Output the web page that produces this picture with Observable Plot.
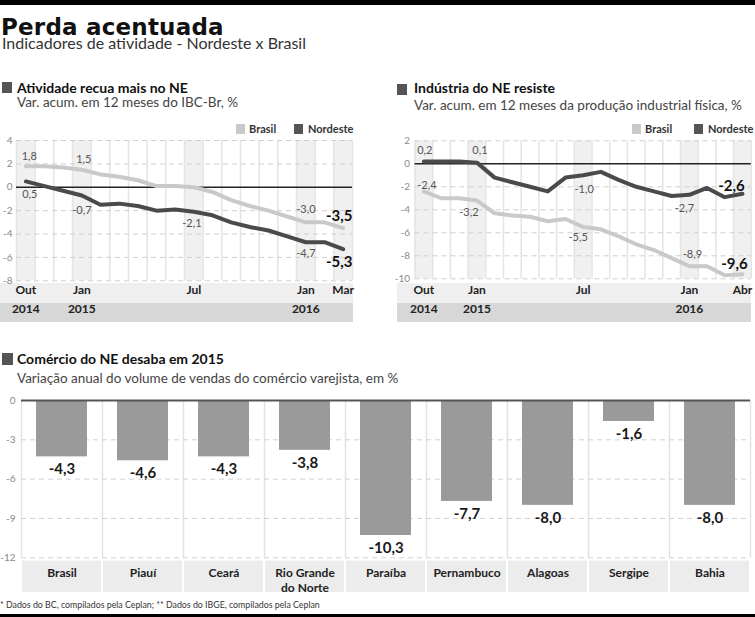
<!DOCTYPE html>
<html><head><meta charset="utf-8">
<script src="https://cdn.jsdelivr.net/npm/d3@7"></script>
<script src="https://cdn.jsdelivr.net/npm/@observablehq/plot@0.6"></script>
<style>
body{margin:0;background:#fff;}
#root{position:relative;width:755px;height:617px;overflow:hidden;font-family:Lato,"Open Sans",sans-serif;color:#222;background:#fff;}
#root > *{position:absolute;}
.t{white-space:nowrap;}
</style></head><body><div id="root"></div>
<script>
// ---------- DATA ----------
// Panel 1: IBC-Br, var. acum. 12 meses (%), Out/2014 - Mar/2016
const periodsA = ["out/14","nov/14","dez/14","jan/15","fev/15","mar/15","abr/15","mai/15","jun/15","jul/15","ago/15","set/15","out/15","nov/15","dez/15","jan/16","fev/16","mar/16"];
const brasilA   = [1.8, 1.8, 1.7, 1.5, 1.1, 0.9, 0.6, 0.1, 0.1, 0.0, -0.4, -1.1, -1.6, -2.0, -2.5, -3.0, -3.0, -3.5];
const nordesteA = [0.5, 0.1, -0.3, -0.7, -1.5, -1.4, -1.6, -2.0, -1.9, -2.1, -2.4, -3.0, -3.4, -3.7, -4.2, -4.7, -4.7, -5.3];
const monthTickIdxA = [0, 3, 9, 15, 17];
const monthTickLblA = ["Out", "Jan", "Jul", "Jan", "Mar"];
const yearTickIdxA = [0, 3, 15];
const yearTickLblA = ["2014", "2015", "2016"];
const yTicksA = [4, 2, 0, -2, -4, -6, -8];

// Panel 2: Produção industrial física, var. acum. 12 meses (%), Out/2014 - Abr/2016
const periodsB = ["out/14","nov/14","dez/14","jan/15","fev/15","mar/15","abr/15","mai/15","jun/15","jul/15","ago/15","set/15","out/15","nov/15","dez/15","jan/16","fev/16","mar/16","abr/16"];
const brasilB   = [-2.4, -3.0, -3.0, -3.2, -4.3, -4.5, -4.6, -5.0, -4.8, -5.5, -5.7, -6.3, -7.0, -7.5, -8.2, -8.9, -8.9, -9.7, -9.6];
const nordesteB = [0.2, 0.2, 0.2, 0.1, -1.2, -1.6, -2.0, -2.4, -1.2, -1.0, -0.7, -1.4, -2.0, -2.4, -2.8, -2.7, -2.1, -2.9, -2.6];
const monthTickIdxB = [0, 3, 9, 15, 18];
const monthTickLblB = ["Out", "Jan", "Jul", "Jan", "Abr"];
const yearTickIdxB = [0, 3, 15];
const yearTickLblB = ["2014", "2015", "2016"];
const yTicksB = [2, 0, -2, -4, -6, -8, -10];

// Panel 3: Comércio varejista, variação anual 2015 (%)
const states = ["Brasil", "Piauí", "Ceará", "Rio Grande\ndo Norte", "Paraíba", "Pernambuco", "Alagoas", "Sergipe", "Bahia"];
const vendas = [-4.3, -4.6, -4.3, -3.8, -10.3, -7.7, -8.0, -1.6, -8.0];
const yTicksC = [0, -3, -6, -9, -12];

// ---------- STYLE ----------
const C_BR = "#c9c9c9", C_NE = "#4a4a4a", C_BAR = "#9a9a9a";
const fmt = v => d3.format(".1f")(v).replace(".", ",").replace("\u2212", "-");

const root = document.getElementById("root");
function box(x, y, w, h, bg) {
  const d = document.createElement("div");
  Object.assign(d.style, {left: x + "px", top: y + "px", width: w + "px", height: h + "px", background: bg});
  root.appendChild(d); return d;
}
// asc/desc: font ascent/descent (em); lh: line-height (em)
function txt(s, x, base, size, opts = {}) {
  const d = document.createElement("div");
  d.className = "t";
  d.textContent = s;
  const asc = opts.asc ?? 0.987, desc = opts.desc ?? 0.213, lh = opts.lh ?? 1.2;
  const offset = (asc + (lh - asc - desc) / 2) * size;
  Object.assign(d.style, {
    left: x + "px", top: (base - offset) + "px", fontSize: size + "px",
    lineHeight: lh, fontWeight: opts.weight || "normal", color: opts.color || "#222",
    fontFamily: opts.family || "Lato, sans-serif", letterSpacing: (opts.ls || 0) + "px"
  });
  root.appendChild(d); return d;
}
function place(svg, x, y) { Object.assign(svg.style, {position: "absolute", left: x + "px", top: y + "px"}); root.appendChild(svg); }

// ---------- HEADER ----------
box(0, 0, 755, 5, "#000");
txt("Perda acentuada", 1, 35.5, 23, {weight: "bold", family: "'DejaVu Sans', sans-serif", asc: 0.928, desc: 0.236, lh: 0.75, color: "#111", ls: 0.2});
txt("Indicadores de atividade - Nordeste x Brasil", 2, 49.5, 16, {color: "#333", lh: 0.8});

// Panel headers
box(2, 82, 10, 11, "#555");
txt("Atividade recua mais no NE", 17, 93.5, 14, {weight: "bold", color: "#111"});
txt("Var. acum. em 12 meses do IBC-Br, %", 17, 107.5, 13.5, {color: "#444"});
box(397, 84, 10, 11, "#555");
txt("Indústria do NE resiste", 414, 94, 14, {weight: "bold", color: "#111"});
txt("Var. acum. em 12 meses da produção industrial física, %", 414, 110.5, 13.5, {color: "#444"});

// Legends
function legend(x1, x2, base) {
  box(x1, base - 9, 9, 10, C_BR);
  txt("Brasil", x1 + 13, base, 11, {weight: "bold", color: "#333"});
  box(x2, base - 9, 9, 10, "#555");
  txt("Nordeste", x2 + 14, base, 11, {weight: "bold", color: "#333"});
}
legend(236, 294, 132.5);
legend(632, 694, 133);

// Axis rows behind the line charts
box(0, 283, 353, 20, "#efefef");
box(0, 303, 353, 18.5, "#d7d7d7");
box(397, 283, 354, 20, "#efefef");
box(397, 303, 354, 18.5, "#d7d7d7");

// ---------- LINE CHARTS ----------
function lineChart(cfg) {
  const n = cfg.periods.length;
  const rows = cfg.periods.flatMap((p, i) => [
    {i, v: cfg.brasil[i], s: "Brasil"},
    {i, v: cfg.nordeste[i], s: "Nordeste"}
  ]);
  const bounds = cfg.periods.map((p, i) => i - 0.5).concat([n - 0.5]);
  const labelMarks = cfg.labels.map(l => {
    const v = (l.s === "Brasil" ? cfg.brasil : cfg.nordeste)[l.i];
    return Plot.text([{i: l.i, v}], {
      x: "i", y: "v", text: d => fmt(d.v), dx: l.dx, dy: l.dy,
      fontSize: l.bold ? 15 : 11, fontWeight: l.bold ? "bold" : "normal",
      fill: l.bold ? "#111" : "#555"
    });
  });
  return Plot.plot({
    width: cfg.width, height: cfg.height,
    marginLeft: cfg.ml, marginRight: cfg.mr, marginTop: cfg.mt, marginBottom: cfg.mb,
    x: {domain: [-0.5, n - 0.5], axis: null},
    y: {domain: cfg.yDomain, axis: null},
    style: {fontFamily: "Lato, sans-serif", background: "transparent", overflow: "visible"},
    marks: [
      Plot.rect(cfg.monthIdx, {x1: d => d - 0.5, x2: d => d + 0.5, y1: cfg.yDomain[0], y2: cfg.yDomain[1], fill: "#f0f0f0"}),
      Plot.ruleX(bounds, {stroke: "#e4e4e4", strokeWidth: 1.5}),
      Plot.ruleY(cfg.yTicks.filter(t => t !== 0), {stroke: "#cfcfcf", strokeDasharray: "5,4"}),
      Plot.ruleY([0], {stroke: "#222", strokeWidth: 1.5}),
      Plot.axisY({ticks: cfg.yTicks, tickSize: 0, tickPadding: cfg.tp, tickFormat: d => `${d}`, color: "#8a8a8a", fontSize: 10, label: null}),
      Plot.line(rows, {x: "i", y: "v", z: "s", stroke: d => d.s === "Brasil" ? C_BR : C_NE, strokeWidth: 4, strokeLinejoin: "round"}),
      ...labelMarks,
      Plot.text(cfg.monthIdx, {x: d => d, text: (d, k) => cfg.monthLbl[k], frameAnchor: "bottom", dy: cfg.dyMonth, fontWeight: "bold", fontSize: 12, fill: "#222"}),
      Plot.text(cfg.yearIdx, {x: d => d, text: (d, k) => cfg.yearLbl[k], frameAnchor: "bottom", dy: cfg.dyYear, fontWeight: "bold", fontSize: 12, fill: "#222"})
    ]
  });
}

place(lineChart({
  periods: periodsA, brasil: brasilA, nordeste: nordesteA,
  yDomain: [-8, 4], yTicks: yTicksA,
  monthIdx: monthTickIdxA, monthLbl: monthTickLblA, yearIdx: yearTickIdxA, yearLbl: yearTickLblA,
  width: 356, height: 200, ml: 16, mr: 4, mt: 15, mb: 44.7, tp: 4, dyMonth: 12.7, dyYear: 31.7,
  labels: [
    {s: "Brasil", i: 0, dx: 3.5, dy: -10}, {s: "Brasil", i: 3, dx: 2, dy: -10},
    {s: "Brasil", i: 15, dx: 0, dy: -13}, {s: "Brasil", i: 17, dx: -4, dy: -12, bold: true},
    {s: "Nordeste", i: 0, dx: 4, dy: 13}, {s: "Nordeste", i: 3, dx: 0, dy: 15},
    {s: "Nordeste", i: 9, dx: -2, dy: 12}, {s: "Nordeste", i: 15, dx: 0, dy: 11.5},
    {s: "Nordeste", i: 17, dx: -4, dy: 12.5, bold: true}
  ]
}), 0, 125);

place(lineChart({
  periods: periodsB, brasil: brasilB, nordeste: nordesteB,
  yDomain: [-10, 2], yTicks: yTicksB,
  monthIdx: monthTickIdxB, monthLbl: monthTickLblB, yearIdx: yearTickIdxB, yearLbl: yearTickLblB,
  width: 375, height: 200, ml: 34.5, mr: 4.2, mt: 15.3, mb: 46.7, tp: 5, dyMonth: 14.7, dyYear: 33.7,
  labels: [
    {s: "Nordeste", i: 0, dx: 1, dy: -11}, {s: "Nordeste", i: 3, dx: 3, dy: -12},
    {s: "Brasil", i: 0, dx: 3, dy: -6}, {s: "Brasil", i: 3, dx: -8, dy: 11.5},
    {s: "Nordeste", i: 9, dx: 1, dy: 14}, {s: "Brasil", i: 9, dx: -5, dy: 10},
    {s: "Nordeste", i: 15, dx: -5, dy: 14}, {s: "Brasil", i: 15, dx: 3, dy: -12},
    {s: "Nordeste", i: 18, dx: -11, dy: -8, bold: true}, {s: "Brasil", i: 18, dx: -8, dy: -10, bold: true}
  ]
}), 380, 125);

// ---------- BAR CHART ----------
box(2, 353, 11, 12, "#555");
txt("Comércio do NE desaba em 2015", 17, 365, 14, {weight: "bold", color: "#111"});
txt("Variação anual do volume de vendas do comércio varejista, em %", 17, 383, 13.5, {color: "#444"});

const barRows = states.map((s, i) => ({s, v: vendas[i]}));
const bW = 755, bML = 21, bMR = 5, pInner = 0.37;
const step = (bW - bML - bMR) / states.length;
const gapHalf = step * pInner / 2;
const bars = Plot.plot({
  width: bW, height: 215, marginLeft: bML, marginRight: bMR, marginTop: 15, marginBottom: 42.7,
  x: {domain: states, paddingInner: pInner, paddingOuter: pInner / 2, axis: null},
  y: {domain: [-12, 0], axis: null},
  style: {fontFamily: "Lato, sans-serif", background: "transparent", overflow: "visible"},
  marks: [
    Plot.barY(barRows, {x: "s", y1: -12.25, y2: -14.65, fill: "#ececec", insetLeft: -(gapHalf - 1), insetRight: -(gapHalf - 1)}),
    Plot.ruleX(barRows, {x: "s", dx: -step / 2, y1: 0, y2: -12, stroke: "#e2e2e2", strokeWidth: 1.5}),
    Plot.ruleX(barRows.slice(-1), {x: "s", dx: step / 2, y1: 0, y2: -12, stroke: "#e2e2e2", strokeWidth: 1.5}),
    Plot.ruleY(yTicksC.filter(t => t !== 0), {stroke: "#d2d2d2", strokeDasharray: "5,4"}),
    Plot.axisY({ticks: yTicksC, tickSize: 0, tickPadding: 6, tickFormat: d => `${d}`, color: "#8a8a8a", fontSize: 10, label: null}),
    Plot.barY(barRows, {x: "s", y: "v", fill: C_BAR}),
    Plot.ruleY([0], {stroke: "#555", strokeWidth: 2}),
    Plot.text(barRows, {x: "s", y: "v", text: d => fmt(d.v), dy: 12.5, fontWeight: "bold", fontSize: 15, fill: "#1a1a1a"}),
    Plot.text(barRows, {x: "s", text: "s", frameAnchor: "bottom", lineAnchor: "top", dy: 8, lineHeight: 1.3, fontWeight: "bold", fontSize: 12, fill: "#222"})
  ]
});
place(bars, 0, 385);

// ---------- FOOTER ----------
txt("* Dados do BC, compilados pela Ceplan; ** Dados do IBGE, compilados pela Ceplan", 0, 609, 8.8, {color: "#333"});
box(0, 614, 755, 3, "#000");
</script></body></html>
